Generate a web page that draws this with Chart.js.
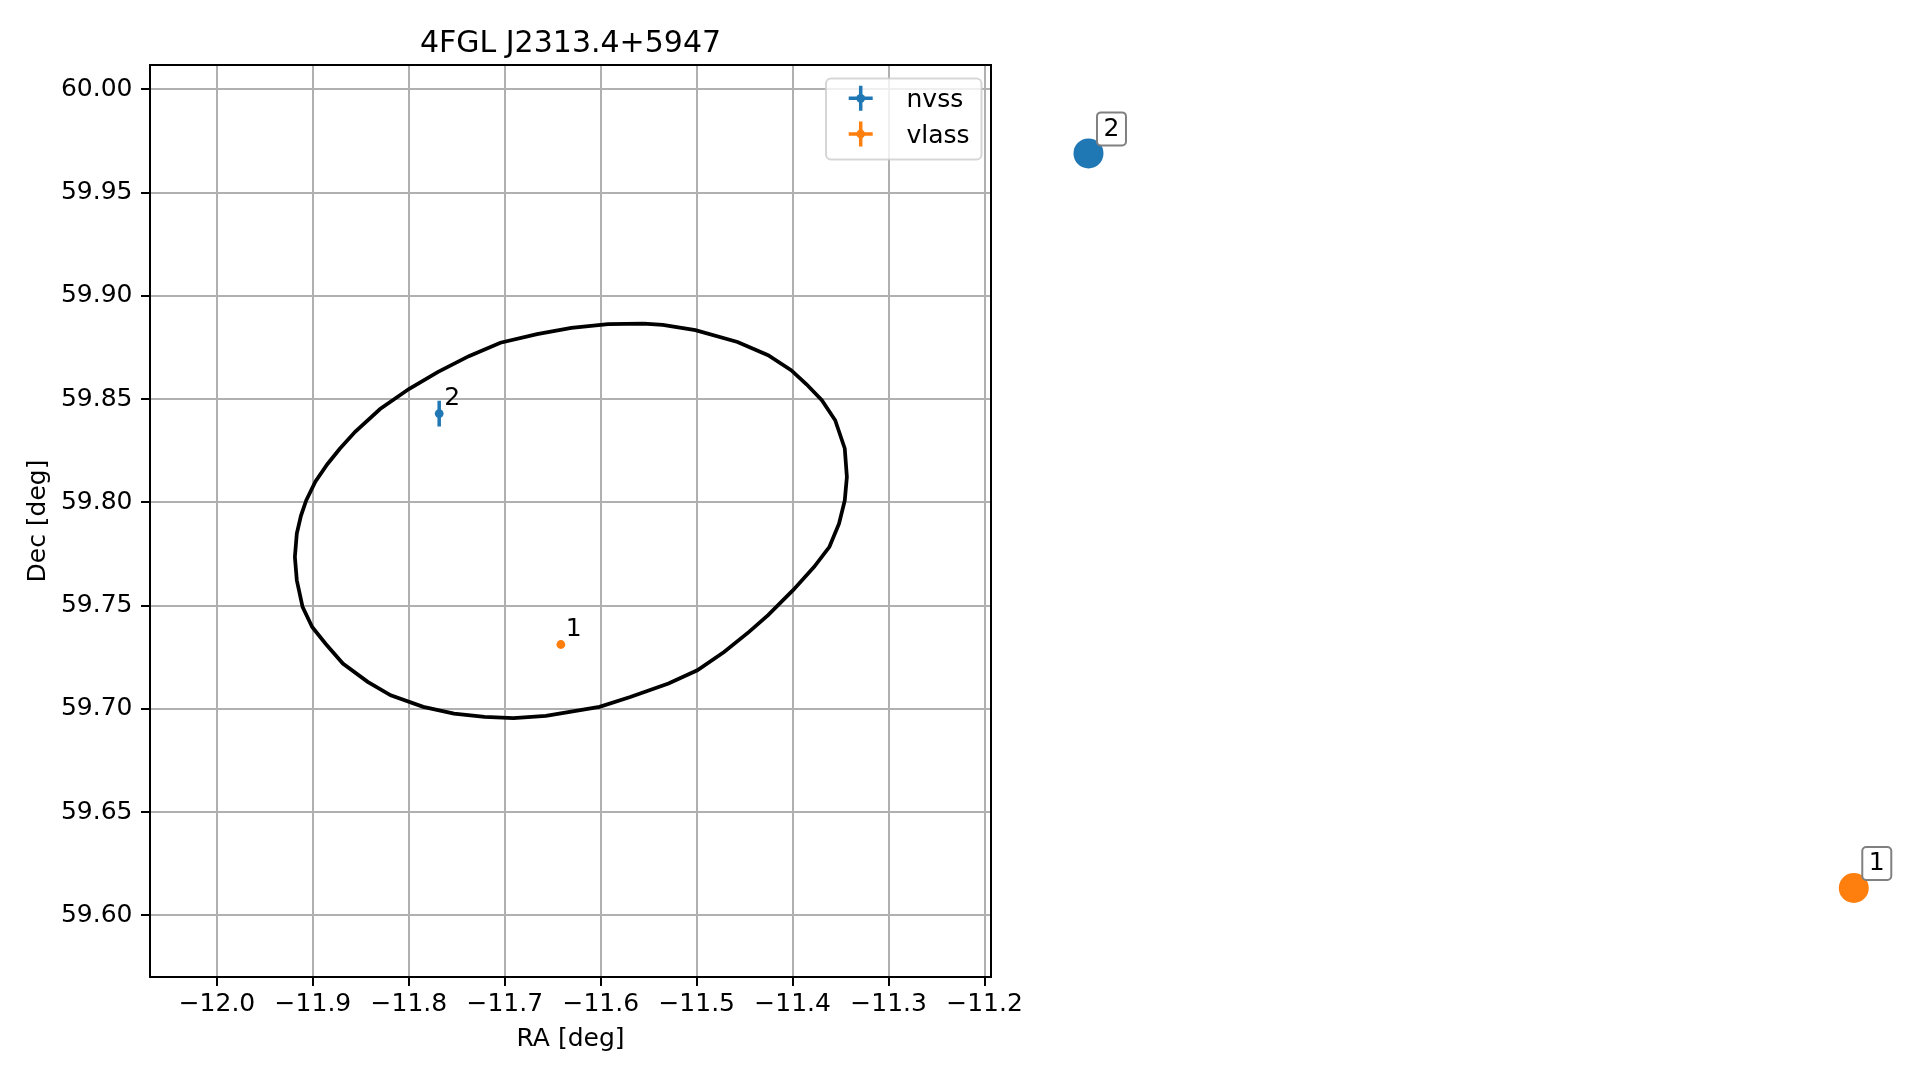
<!DOCTYPE html>
<html lang="en">
<head>
<meta charset="UTF-8">
<title>4FGL J2313.4+5947</title>
<script src="https://cdn.jsdelivr.net/npm/chart.js@4.4.1/dist/chart.umd.min.js"></script>
<style>
  html, body { margin: 0; padding: 0; background: #fff; }
  canvas { display: block; }
</style>
</head>
<body>
<canvas id="skyChart" width="1919" height="1080"></canvas>
<script>
const chartTitle = '4FGL J2313.4+5947';
const fontFamily = '"DejaVu Sans", sans-serif';

// localisation ellipse outline (RA, Dec in deg)
const ellipseRA = [-11.5553, -11.5354, -11.5014, -11.4575, -11.4256, -11.4016, -11.3856, -11.3696, -11.3557, -11.3457,
  -11.3435, -11.3457, -11.3517, -11.3617, -11.3776, -11.3996, -11.4256, -11.4455, -11.4715, -11.4994,
  -11.5294, -11.5693, -11.6013, -11.6572, -11.6911, -11.7211, -11.7530, -11.7850, -11.8189, -11.8429,
  -11.8688, -11.8868, -11.9008, -11.9108, -11.9168, -11.9188, -11.9168, -11.9125, -11.9070, -11.8975,
  -11.8850, -11.8720, -11.8560, -11.8300, -11.8000, -11.7700, -11.7375, -11.7046, -11.6664, -11.6306,
  -11.5924, -11.5553];
const ellipseDec = [59.8866, 59.8860, 59.8834, 59.8777, 59.8713, 59.8640, 59.8572, 59.8495, 59.8398, 59.8261,
  59.8123, 59.8010, 59.7897, 59.7785, 59.7688, 59.7575, 59.7454, 59.7373, 59.7276, 59.7187,
  59.7123, 59.7058, 59.7010, 59.6966, 59.6956, 59.6961, 59.6977, 59.7010, 59.7066, 59.7131,
  59.7220, 59.7316, 59.7397, 59.7494, 59.7623, 59.7736, 59.7849, 59.7935, 59.8010, 59.8100,
  59.8185, 59.8260, 59.8342, 59.8452, 59.8549, 59.8631, 59.8708, 59.8773, 59.8815, 59.8845,
  59.8863, 59.8866];

// radio sources
const nvssRA = [-11.7684];
const nvssDec = [59.8430];
const nvssErrRA = [0.002];
const nvssErrDec = [0.0062];
const nvssLabels = ['2'];

const vlassRA = [-11.6416];
const vlassDec = [59.7312];
const vlassErrRA = [0.001];
const vlassErrDec = [0.001];
const vlassLabels = ['1'];

// big labelled markers that sit outside the axes
const markerRA = [-10.2941, -11.0917];
const markerDec = [59.6133, 59.9690];
const markerLabels = ['1', '2'];
const markerColors = ['#ff7f0e', '#1f77b4'];

const raTicks = [-12.0, -11.9, -11.8, -11.7, -11.6, -11.5, -11.4, -11.3, -11.2];
const decTicks = [59.60, 59.65, 59.70, 59.75, 59.80, 59.85, 59.90, 59.95, 60.00];

const legendItems = ['nvss', 'vlass'];
const legendColors = ['#1f77b4', '#ff7f0e'];

const toPoints = (xs, ys) => xs.map((x, i) => ({x: x, y: ys[i]}));
const fmt = (v, d) => Number(v).toFixed(d).replace('-', '\u2212');

function roundBox(ctx, x, y, w, h, r) {
  ctx.beginPath();
  ctx.moveTo(x + r, y);
  ctx.lineTo(x + w - r, y);
  ctx.arcTo(x + w, y, x + w, y + r, r);
  ctx.lineTo(x + w, y + h - r);
  ctx.arcTo(x + w, y + h, x + w - r, y + h, r);
  ctx.lineTo(x + r, y + h);
  ctx.arcTo(x, y + h, x, y + h - r, r);
  ctx.lineTo(x, y + r);
  ctx.arcTo(x, y, x + r, y, r);
  ctx.closePath();
}

const extras = {
  id: 'extras',
  beforeDatasetsDraw(chart) {
    // error bars under the markers
    const ctx = chart.ctx, xs = chart.scales.x, ys = chart.scales.y;
    const sets = [[nvssRA, nvssDec, nvssErrRA, nvssErrDec, '#1f77b4'],
                  [vlassRA, vlassDec, vlassErrRA, vlassErrDec, '#ff7f0e']];
    ctx.save();
    ctx.lineWidth = 3.5;
    sets.forEach(([ra, dec, era, edec, col]) => {
      ctx.strokeStyle = col;
      ra.forEach((r, i) => {
        const px = xs.getPixelForValue(r), py = ys.getPixelForValue(dec[i]);
        ctx.beginPath();
        ctx.moveTo(xs.getPixelForValue(r - era[i]), py);
        ctx.lineTo(xs.getPixelForValue(r + era[i]), py);
        ctx.moveTo(px, ys.getPixelForValue(dec[i] - edec[i]));
        ctx.lineTo(px, ys.getPixelForValue(dec[i] + edec[i]));
        ctx.stroke();
      });
    });
    ctx.restore();
  },
  afterDatasetsDraw(chart) {
    const ctx = chart.ctx, xs = chart.scales.x, ys = chart.scales.y;
    ctx.save();
    // number labels next to the small points
    ctx.font = '25px ' + fontFamily;
    ctx.fillStyle = '#000';
    ctx.textAlign = 'left';
    ctx.textBaseline = 'alphabetic';
    [[nvssRA, nvssDec, nvssLabels], [vlassRA, vlassDec, vlassLabels]].forEach(([ra, dec, lab]) => {
      ra.forEach((r, i) => {
        ctx.fillText(lab[i], xs.getPixelForValue(r) + 5, ys.getPixelForValue(dec[i]) - 9);
      });
    });
    // big markers outside the axes: draw the elements without the chart-area limit
    const full = {left: 0, top: 0, right: chart.width, bottom: chart.height};
    const meta = chart.getDatasetMeta(3);
    meta.data.forEach(el => el.draw(ctx, full));
    meta.data.forEach((el, i) => {
      const bx = el.x + 8.5, by = el.y - 41;
      roundBox(ctx, bx, by, 29, 33, 4);
      ctx.fillStyle = '#fff';
      ctx.fill();
      ctx.lineWidth = 2;
      ctx.strokeStyle = '#808080';
      ctx.stroke();
      ctx.fillStyle = '#000';
      ctx.textAlign = 'center';
      ctx.textBaseline = 'middle';
      ctx.fillText(markerLabels[i], bx + 14.5, by + 17);
    });
    ctx.restore();
  },
  afterDraw(chart) {
    const ctx = chart.ctx, a = chart.chartArea;
    ctx.save();
    // axes frame
    ctx.strokeStyle = '#000';
    ctx.lineWidth = 2;
    ctx.strokeRect(a.left, a.top, a.right - a.left, a.bottom - a.top);
    // title
    ctx.font = '30px ' + fontFamily;
    ctx.fillStyle = '#000';
    ctx.textAlign = 'center';
    ctx.textBaseline = 'alphabetic';
    ctx.fillText(chartTitle, (a.left + a.right) / 2, 51.5);
    // legend
    roundBox(ctx, 826, 78.5, 155.5, 81, 5);
    ctx.fillStyle = 'rgba(255,255,255,0.8)';
    ctx.fill();
    ctx.strokeStyle = 'rgba(204,204,204,0.8)';
    ctx.lineWidth = 2;
    ctx.stroke();
    legendItems.forEach((name, i) => {
      const cx = 860.7, cy = 98.3 + i * 35.7;
      ctx.strokeStyle = legendColors[i];
      ctx.lineWidth = 3.5;
      ctx.beginPath();
      ctx.moveTo(cx - 12, cy); ctx.lineTo(cx + 12, cy);
      ctx.moveTo(cx, cy - 12.5); ctx.lineTo(cx, cy + 12.5);
      ctx.stroke();
      ctx.fillStyle = legendColors[i];
      ctx.beginPath();
      ctx.arc(cx, cy, 4.4, 0, Math.PI * 2);
      ctx.fill();
      ctx.fillStyle = '#000';
      ctx.font = '25px ' + fontFamily;
      ctx.textAlign = 'left';
      ctx.textBaseline = 'alphabetic';
      ctx.fillText(name, 906.5, cy + 8.5);
    });
    ctx.restore();
  }
};

const tickFont = {family: fontFamily, size: 25};

new Chart(document.getElementById('skyChart'), {
  type: 'scatter',
  data: {
    datasets: [
      {
        label: 'ellipse',
        data: toPoints(ellipseRA, ellipseDec),
        showLine: true,
        borderColor: '#000',
        borderWidth: 3.75,
        pointRadius: 0,
        fill: false,
        tension: 0
      },
      {
        label: 'nvss',
        data: toPoints(nvssRA, nvssDec),
        backgroundColor: '#1f77b4',
        borderWidth: 0,
        pointRadius: 4.4
      },
      {
        label: 'vlass',
        data: toPoints(vlassRA, vlassDec),
        backgroundColor: '#ff7f0e',
        borderWidth: 0,
        pointRadius: 4.4
      },
      {
        label: 'markers',
        data: toPoints(markerRA, markerDec),
        backgroundColor: markerColors,
        borderWidth: 0,
        pointRadius: 15
      }
    ]
  },
  options: {
    responsive: false,
    animation: false,
    devicePixelRatio: 1,
    events: [],
    layout: {padding: {left: 0, top: 65, right: 928, bottom: 0}},
    plugins: {
      legend: {display: false},
      title: {display: false},
      tooltip: {enabled: false}
    },
    scales: {
      x: {
        type: 'linear',
        position: 'bottom',
        min: -12.0698,
        max: -11.1933,
        afterBuildTicks: s => { s.ticks = raTicks.map(v => ({value: v})); },
        afterFit: s => { s.height = 103; },
        ticks: {
          callback: v => fmt(v, 1),
          font: tickFont,
          color: '#000',
          padding: 3.5,
          maxRotation: 0,
          autoSkip: false
        },
        grid: {color: '#b0b0b0', lineWidth: 2, tickColor: '#000', tickLength: 9, tickWidth: 2},
        border: {color: '#000', width: 2},
        title: {display: true, text: 'RA [deg]', font: tickFont, color: '#000', padding: {top: 0, bottom: 25.4}}
      },
      y: {
        type: 'linear',
        position: 'left',
        min: 59.5702,
        max: 60.0118,
        afterBuildTicks: s => { s.ticks = decTicks.map(v => ({value: v})); },
        afterFit: s => { s.width = 150; },
        ticks: {
          callback: v => fmt(v, 2),
          font: tickFont,
          color: '#000',
          padding: 8.5,
          autoSkip: false
        },
        grid: {color: '#b0b0b0', lineWidth: 2, tickColor: '#000', tickLength: 9, tickWidth: 2},
        border: {color: '#000', width: 2},
        title: {display: true, text: 'Dec [deg]', font: tickFont, color: '#000', padding: {top: 23, bottom: 0}}
      }
    }
  },
  plugins: [extras]
});
</script>
</body>
</html>
